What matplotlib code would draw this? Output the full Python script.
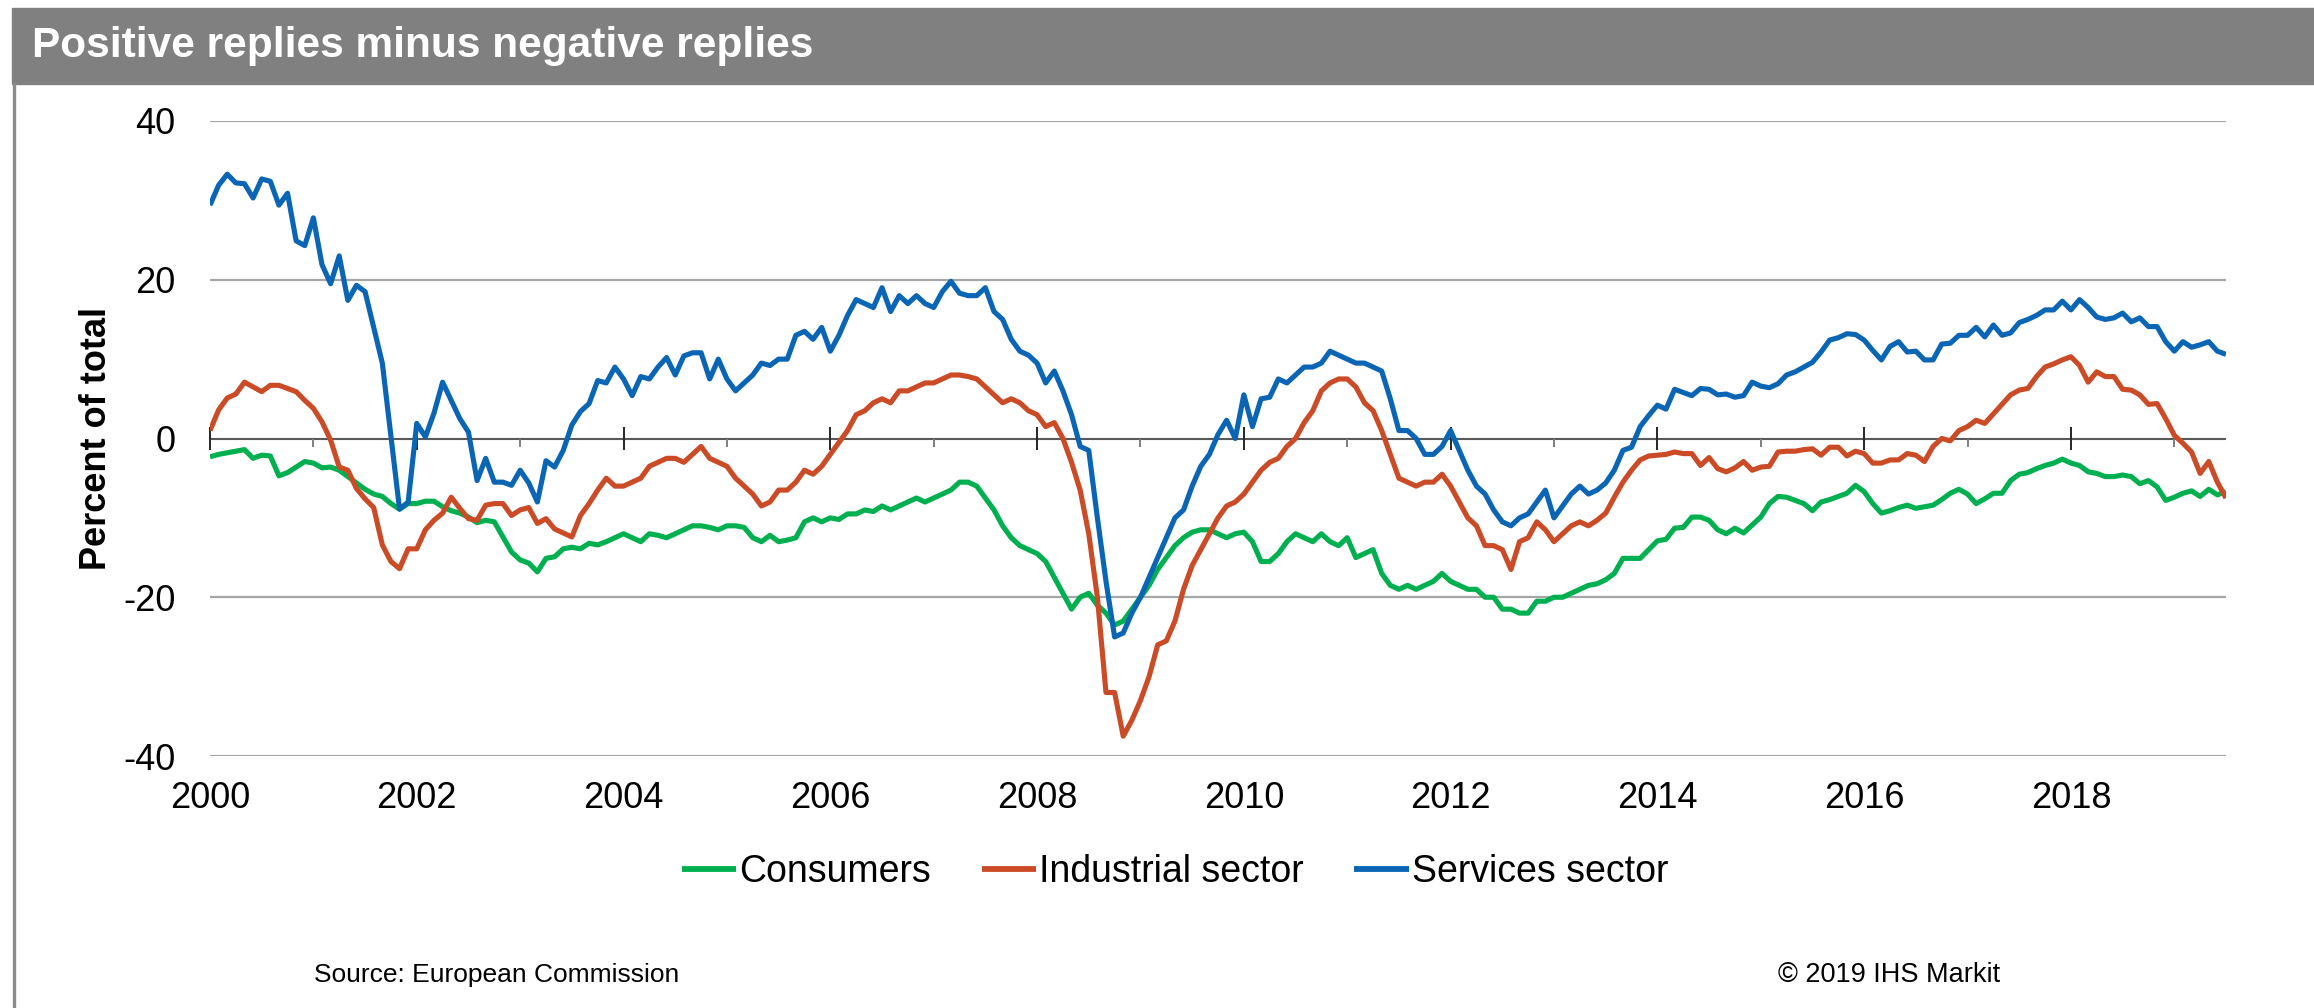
import numpy as np
import matplotlib.pyplot as plt
from matplotlib.lines import Line2D
from matplotlib.patches import Rectangle

plt.rcParams['font.family'] = ['Liberation Sans', 'DejaVu Sans']
plt.rcParams['axes.unicode_minus'] = False

### Balance of positive minus negative replies, monthly, Jan 2000 - Jul 2019 ###

consumers = [
    -2.3, -2.0, -1.8, -1.6, -1.4, -2.5, -2.1, -2.2, -4.7, -4.3, -3.6, -2.9,          # 2000
    -3.1, -3.7, -3.6, -4.0, -4.8, -5.6, -6.4, -7.0, -7.3, -8.2, -8.9, -8.2,          # 2001
    -8.2, -7.9, -7.9, -8.6, -9.1, -9.4, -9.9, -10.6, -10.3, -10.5, -12.4, -14.3,     # 2002
    -15.3, -15.7, -16.8, -15.1, -14.9, -13.9, -13.7, -13.9, -13.2, -13.4, -13.0, -12.5,  # 2003
    -12.0, -12.5, -13.0, -12.0, -12.2, -12.5, -12.0, -11.5, -11.0, -11.0, -11.2, -11.5,  # 2004
    -11.0, -11.0, -11.2, -12.5, -13.0, -12.2, -13.0, -12.8, -12.5, -10.5, -10.0, -10.5,  # 2005
    -10.0, -10.2, -9.5, -9.5, -9.0, -9.2, -8.5, -9.0, -8.5, -8.0, -7.5, -8.0,        # 2006
    -7.5, -7.0, -6.5, -5.5, -5.5, -6.0, -7.5, -9.0, -11.0, -12.5, -13.5, -14.0,      # 2007
    -14.5, -15.5, -17.5, -19.5, -21.5, -20.0, -19.5, -21.0, -22.0, -23.5, -23.0, -21.5,  # 2008
    -20.0, -18.5, -16.5, -15.0, -13.5, -12.5, -11.8, -11.5, -11.5, -12.0, -12.5, -12.0,  # 2009
    -11.8, -13.0, -15.5, -15.5, -14.5, -13.0, -12.0, -12.5, -13.0, -12.0, -13.0, -13.5,  # 2010
    -12.5, -15.0, -14.5, -14.0, -17.0, -18.5, -19.0, -18.5, -19.0, -18.5, -18.0, -17.0,  # 2011
    -18.0, -18.5, -19.0, -19.0, -20.0, -20.0, -21.5, -21.5, -22.0, -22.0, -20.5, -20.5,  # 2012
    -20.0, -20.0, -19.5, -19.0, -18.5, -18.3, -17.8, -17.0, -15.1, -15.1, -15.1, -14.0,  # 2013
    -12.9, -12.7, -11.3, -11.2, -9.9, -9.9, -10.3, -11.5, -12.0, -11.3, -11.9, -10.9,    # 2014
    -9.9, -8.2, -7.3, -7.4, -7.8, -8.2, -9.1, -8.0, -7.7, -7.3, -6.9, -5.9,          # 2015
    -6.7, -8.2, -9.4, -9.1, -8.7, -8.4, -8.8, -8.6, -8.4, -7.7, -6.9, -6.4,          # 2016
    -7.0, -8.2, -7.6, -6.9, -6.9, -5.3, -4.5, -4.3, -3.8, -3.4, -3.1, -2.6,          # 2017
    -3.1, -3.4, -4.2, -4.4, -4.8, -4.8, -4.6, -4.8, -5.7, -5.3, -6.1, -7.8,          # 2018
    -7.4, -6.9, -6.6, -7.3, -6.4, -7.1, -6.7,                                        # 2019
]

industrial = [
    1.0, 3.6, 5.1, 5.6, 7.1, 6.5, 5.9, 6.7, 6.7, 6.3, 5.9, 4.8,                      # 2000
    3.8, 2.1, -0.2, -3.6, -4.0, -6.3, -7.6, -8.7, -13.4, -15.5, -16.4, -13.9,        # 2001
    -13.9, -11.5, -10.3, -9.4, -7.4, -8.8, -10.1, -10.3, -8.4, -8.2, -8.2, -9.7,     # 2002
    -9.0, -8.7, -10.7, -10.1, -11.4, -11.9, -12.4, -9.7, -8.2, -6.5, -5.0, -6.0,     # 2003
    -6.0, -5.5, -5.0, -3.5, -3.0, -2.5, -2.5, -3.0, -2.0, -1.0, -2.5, -3.0,          # 2004
    -3.5, -5.0, -6.0, -7.0, -8.5, -8.0, -6.5, -6.5, -5.5, -4.0, -4.5, -3.5,          # 2005
    -2.0, -0.5, 1.0, 3.0, 3.5, 4.5, 5.0, 4.5, 6.0, 6.0, 6.5, 7.0,                    # 2006
    7.0, 7.5, 8.0, 8.0, 7.8, 7.5, 6.5, 5.5, 4.5, 5.0, 4.5, 3.5,                      # 2007
    3.0, 1.5, 2.0, 0.0, -3.0, -6.5, -12.0, -20.0, -32.0, -32.0, -37.5, -35.5,        # 2008
    -33.0, -30.0, -26.0, -25.5, -23.0, -19.0, -16.0, -14.0, -12.0, -10.0, -8.5, -8.0,    # 2009
    -7.0, -5.5, -4.0, -3.0, -2.5, -1.0, 0.0, 2.0, 3.5, 6.0, 7.0, 7.5,                # 2010
    7.5, 6.5, 4.5, 3.5, 1.0, -2.0, -5.0, -5.5, -6.0, -5.5, -5.5, -4.5,               # 2011
    -6.0, -8.0, -10.0, -11.0, -13.5, -13.5, -14.0, -16.5, -13.0, -12.5, -10.5, -11.5,    # 2012
    -13.0, -12.0, -11.0, -10.5, -11.0, -10.3, -9.4, -7.4, -5.5, -4.0, -2.7, -2.2,    # 2013
    -2.1, -2.0, -1.7, -1.9, -1.9, -3.4, -2.4, -3.8, -4.2, -3.7, -2.9, -4.0,          # 2014
    -3.6, -3.5, -1.7, -1.6, -1.6, -1.4, -1.3, -2.1, -1.1, -1.1, -2.2, -1.6,          # 2015
    -1.9, -3.1, -3.1, -2.7, -2.7, -1.9, -2.1, -2.9, -1.0, 0.0, -0.3, 1.0,            # 2016
    1.5, 2.3, 1.9, 3.1, 4.3, 5.5, 6.1, 6.3, 7.8, 9.0, 9.4, 9.9,                      # 2017
    10.3, 9.2, 7.1, 8.4, 7.8, 7.8, 6.2, 6.1, 5.5, 4.3, 4.4, 2.5,                     # 2018
    0.4, -0.6, -1.7, -4.4, -2.9, -5.5, -7.5,                                         # 2019
]

services = [
    29.4, 31.9, 33.3, 32.2, 32.1, 30.3, 32.7, 32.4, 29.4, 30.9, 24.9, 24.3,          # 2000
    27.8, 21.9, 19.5, 23.0, 17.4, 19.3, 18.5, 14.0, 9.5, 0.3, -8.9, -8.0,            # 2001
    1.9, 0.2, 3.2, 7.1, 4.8, 2.5, 0.8, -5.3, -2.5, -5.5, -5.5, -5.9,                 # 2002
    -4.0, -5.6, -8.0, -2.8, -3.6, -1.5, 1.7, 3.4, 4.4, 7.3, 7.0, 9.0,                # 2003
    7.5, 5.4, 7.8, 7.5, 9.0, 10.2, 8.0, 10.4, 10.8, 10.8, 7.5, 10.0,                 # 2004
    7.5, 6.0, 7.0, 8.0, 9.5, 9.2, 10.0, 10.0, 13.0, 13.5, 12.5, 14.0,                # 2005
    11.0, 13.0, 15.5, 17.5, 17.0, 16.5, 19.0, 16.0, 18.0, 17.0, 18.0, 17.0,          # 2006
    16.5, 18.5, 19.8, 18.3, 18.0, 18.0, 19.0, 16.0, 15.0, 12.5, 11.0, 10.5,          # 2007
    9.5, 7.0, 8.5, 6.0, 3.0, -1.0, -1.5, -10.0, -18.0, -25.0, -24.5, -22.0,          # 2008
    -20.0, -17.5, -15.0, -12.5, -10.0, -9.0, -6.0, -3.5, -2.0, 0.5, 2.3, 0.0,        # 2009
    5.5, 1.5, 5.0, 5.2, 7.5, 7.0, 8.0, 9.0, 9.0, 9.5, 11.0, 10.5,                    # 2010
    10.0, 9.5, 9.5, 9.0, 8.5, 5.0, 1.0, 1.0, 0.0, -2.0, -2.0, -1.0,                  # 2011
    1.0, -1.5, -4.0, -6.0, -7.0, -9.0, -10.5, -11.0, -10.0, -9.5, -8.0, -6.5,        # 2012
    -10.0, -8.5, -7.0, -6.0, -7.0, -6.5, -5.6, -4.0, -1.5, -1.1, 1.5, 2.9,           # 2013
    4.2, 3.7, 6.2, 5.8, 5.4, 6.3, 6.2, 5.5, 5.6, 5.2, 5.4, 7.1,                      # 2014
    6.6, 6.4, 6.9, 8.0, 8.4, 9.0, 9.6, 10.9, 12.4, 12.7, 13.2, 13.1,                 # 2015
    12.4, 11.1, 9.9, 11.6, 12.2, 10.9, 11.0, 9.9, 9.9, 11.9, 12.0, 13.0,             # 2016
    13.0, 14.0, 12.8, 14.3, 13.0, 13.3, 14.6, 15.0, 15.5, 16.2, 16.2, 17.3,          # 2017
    16.2, 17.5, 16.5, 15.3, 15.0, 15.2, 15.8, 14.7, 15.2, 14.1, 14.1, 12.2,          # 2018
    11.0, 12.2, 11.5, 11.8, 12.2, 11.0, 10.6,                                        # 2019
]

start_year = 2000
label_years = list(range(2000, 2019, 2))
y_ticks = [-40, -20, 0, 20, 40]

series_names = ['Consumers', 'Industrial sector', 'Services sector']
series_colors = ['#00b050', '#cb4b27', '#0a66b4']

title = 'Positive replies minus negative replies'
y_title = 'Percent of total'
source_note = 'Source: European Commission'
copyright_note = '\u00a9 2019 IHS Markit'

# canvas size in pixels, positions below are measured from the top-left corner
W, H = 2314, 1008


def fx(x):
    return x / W


def fy(y):
    return 1 - y / H


fig = plt.figure(figsize=(W / 100, H / 100), dpi=100)
fig.patch.set_facecolor('white')

# grey header band and left frame line
fig.patches.append(Rectangle((fx(12), fy(84)), 1 - fx(12), 76 / H,
                             transform=fig.transFigure, color='#808080', zorder=0))
fig.text(fx(32), fy(46), title, color='white', fontsize=30.5,
         fontweight='bold', ha='left', va='center')
fig.add_artist(Line2D([fx(13.5), fx(13.5)], [0, fy(84)], transform=fig.transFigure,
                      color='#8c8c8c', lw=2.4))

ax = fig.add_axes([fx(210), fy(756), (2226 - 210) / W, (756 - 121) / H])

dates = start_year + np.arange(len(services)) / 12.0

ax.set_xlim(dates[0], dates[-1])
ax.set_ylim(-40, 40)

for v in y_ticks:
    if v != 0:
        ax.axhline(v, color='#a6a6a6', lw=1.6, zorder=1)
ax.axhline(0, color='#595959', lw=1.5, zorder=2)

# category axis sits on the zero line: long ticks on even years, short ones in between
all_years = np.arange(2000, 2020)
major = all_years[all_years % 2 == 0]
minor = all_years[all_years % 2 == 1]
ax.vlines(major, -1.4, 1.4, color='#262626', lw=1.4, zorder=2, clip_on=False)
ax.vlines(minor, -1.1, 0, color='#7f7f7f', lw=1.4, zorder=2)

for vals, name, c in zip([consumers, industrial, services], series_names, series_colors):
    ax.plot(dates, vals, color=c, lw=3.7, label=name, zorder=3,
            solid_joinstyle='round', solid_capstyle='butt')

for s in ax.spines.values():
    s.set_visible(False)

ax.set_yticks(y_ticks)
ax.set_yticklabels([str(v) for v in y_ticks])
ax.set_xticks(label_years)
ax.set_xticklabels([str(y) for y in label_years])
ax.tick_params(axis='y', length=0, pad=25, labelsize=26)
ax.tick_params(axis='x', length=0, pad=18, labelsize=26)

fig.text(fx(96), fy(438), y_title, rotation=90, fontsize=26, fontweight='bold',
         ha='center', va='center')

handles, labels = ax.get_legend_handles_labels()
leg = fig.legend(handles, labels, loc='center', bbox_to_anchor=(fx(1175), fy(872)),
                 ncol=3, frameon=False, fontsize=27, handlelength=1.45,
                 handletextpad=0.08, columnspacing=1.35, borderpad=0, borderaxespad=0)
for h in leg.legend_handles:
    h.set_linewidth(4.2)

fig.text(fx(314), fy(975), source_note, fontsize=19, ha='left', va='center')
fig.text(fx(1778), fy(975), copyright_note, fontsize=19.5, ha='left', va='center')

fig.savefig('out.png', dpi=100)
